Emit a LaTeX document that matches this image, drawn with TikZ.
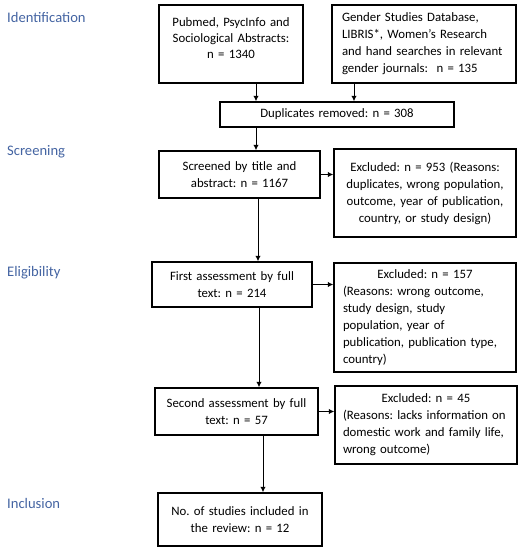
\documentclass[tikz,border=0pt]{standalone}
\usepackage{fontspec}
\setmainfont{Carlito}
\usetikzlibrary{arrows.meta}
\definecolor{stagecol}{RGB}{68,100,162}
\tikzset{
	box/.style={draw, line width=1.5pt, inner sep=0pt, align=center, font=\frenchspacing\fontsize{12.8}{17}\selectfont},
	stage/.style={anchor=west, inner sep=0pt, text=stagecol, font=\fontsize{14.6}{17}\selectfont},
	arr/.style={line width=1pt, -{Latex[length=5.5pt,width=5.5pt]}}
}
\def\ctr#1{\makebox[\hsize]{#1}}

\begin{document}
\begin{tikzpicture}[x=1pt, y=-1pt]
		%%%%% FRAME %%%%%
		\useasboundingbox (0, 0) rectangle (522, 550);
		
		%%%%% STAGES %%%%%
		\node[stage] (ident) at (7, 17) {Identification};
		\node[stage] (scr) at (7, 152) {Screening};
		\node[stage] (elig) at (7, 273) {Eligibility};
		\node[stage] (incl) at (7, 503) {Inclusion};
		
		%%%%% BOXES %%%%%
		\node[box, font=\frenchspacing\fontsize{12.8}{16}\selectfont, minimum width=144, minimum height=78, text width=144] (pubmed) at (231, 44)
			{Pubmed, PsycInfo and\\ Sociological Abstracts:\\ n = 1340\\[-4pt]\mbox{}};
		\node[box, minimum width=184, minimum height=78, text width=164, align=left] (gender) at (424, 44)
			{Gender Studies Database,\\ LIBRIS*, Women’s Research\\ and hand searches in relevant\\ gender journals:\ \ n = 135};
		\node[box, minimum width=234, minimum height=25, text width=234] (dupl) at (337, 114.5)
			{Duplicates removed: n = 308};
		
		\node[box, minimum width=161, minimum height=47, text width=161] (screen) at (239.5, 174.5)
			{Screened by title and\\ abstract: n = 1167};
		\node[box, minimum width=182, minimum height=88, text width=182] (excl1) at (425, 193)
			{Excluded: n = 953 (Reasons:\\ duplicates, wrong population,\\ outcome, year of publication,\\ country, or study design)};
		
		\node[box, minimum width=160, minimum height=45, text width=160] (first) at (232, 284.5)
			{First assessment by full\\ text: n = 214};
		\node[box, minimum width=182, minimum height=109, text width=164, align=left] (excl2) at (425, 317.5)
			{\ctr{Excluded: n = 157}\\ (Reasons: wrong outcome,\\ study design, study\\ population, year of\\ publication, publication type,\\ country)};
		
		\node[box, minimum width=163, minimum height=47, text width=163] (second) at (236.5, 411.5)
			{Second assessment by full\\ text: n = 57};
		\node[box, minimum width=182, minimum height=78, text width=166, align=left] (excl3) at (426, 425)
			{\ctr{Excluded: n = 45}\\ (Reasons: lacks information on\\ domestic work and family life,\\ wrong outcome)};
		
		\node[box, minimum width=164, minimum height=53, text width=164] (final) at (240, 519.5)
			{No. of studies included in\\ the review: n = 12};
		
		%%%%% ARROWS %%%%%
		\coordinate (xa) at (256, 0);
		\coordinate (xb) at (354, 0);
		\coordinate (xc) at (258, 0);
		\coordinate (xd) at (259, 0);
		\coordinate (xe) at (263, 0);
		
		\draw[arr] (pubmed.south -| xa) -- (dupl.north -| xa);
		\draw[arr] (gender.south -| xb) -- (dupl.north -| xb);
		\draw[arr] (dupl.south -| xa) -- (screen.north -| xa);
		\draw[arr] (screen.east) -- (screen.east -| excl1.west);
		\draw[arr] (screen.south -| xc) -- (first.north -| xc);
		\draw[arr] (first.east) -- (first.east -| excl2.west);
		\draw[arr] (first.south -| xd) -- (second.north -| xd);
		\draw[arr] (second.east) -- (second.east -| excl3.west);
		\draw[arr] (second.south -| xe) -- (final.north -| xe);
		
	\end{tikzpicture}
\end{document}
